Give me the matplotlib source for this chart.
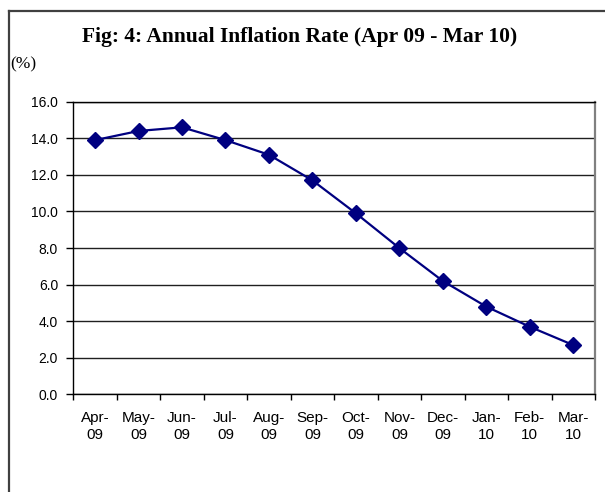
import matplotlib.pyplot as plt
from matplotlib.lines import Line2D
import numpy as np

# Data
months = ['Apr-\n09', 'May-\n09', 'Jun-\n09', 'Jul-\n09', 'Aug-\n09', 'Sep-\n09',
          'Oct-\n09', 'Nov-\n09', 'Dec-\n09', 'Jan-\n10', 'Feb-\n10', 'Mar-\n10']
inflation = [13.9, 14.4, 14.6, 13.9, 13.1, 11.7, 9.9, 8.0, 6.2, 4.8, 3.7, 2.7]
y_ticks = [0.0, 2.0, 4.0, 6.0, 8.0, 10.0, 12.0, 14.0, 16.0]

fig = plt.figure(figsize=(6.05, 4.92), dpi=100)
ax = fig.add_axes([0.1212, 0.1982, 0.8623, 0.5951])

x = np.arange(len(months))
ax.plot(x, inflation, color='#000080', linewidth=1.6, marker='D',
        markersize=8.5, zorder=3)

# Category axis: points centred, ticks between categories
ax.set_xlim(-0.5, len(months) - 0.5)
ax.set_xticks(x)
ax.set_xticklabels(months, fontsize=11, family='Liberation Sans',
                   linespacing=1.3)
ax.set_xticks(np.arange(-0.5, len(months)), minor=True)
ax.tick_params(axis='x', which='major', length=0, pad=12)
ax.tick_params(axis='x', which='minor', length=4, width=1, direction='out')

ax.set_ylim(0, 16)
ax.set_yticks(y_ticks)
ax.set_yticklabels(['{:.1f}'.format(v) for v in y_ticks], fontsize=10,
                   family='Liberation Sans')
ax.tick_params(axis='y', length=5, width=1, direction='out', pad=6)

# Horizontal gridlines
ax.grid(axis='y', color='#202020', linewidth=1.0)
ax.set_axisbelow(True)

for side in ['left', 'bottom', 'top']:
    ax.spines[side].set_color('black')
    ax.spines[side].set_linewidth(1.0)
ax.spines['right'].set_color('#808080')
ax.spines['right'].set_linewidth(1.6)

# Title and unit label
fig.text(0.496, 0.924, 'Fig: 4: Annual Inflation Rate (Apr 09 - Mar 10)',
         ha='center', va='center', fontsize=15.5, fontweight='bold',
         family='Liberation Serif')
fig.text(0.017, 0.870, '(%)', ha='left', va='center', fontsize=12.5,
         family='Liberation Serif')

# Outer chart border (only left and top visible in the crop)
fig.add_artist(Line2D([0.0157, 0.0157], [0.0, 0.978], color='#404040',
                      linewidth=1.6, transform=fig.transFigure))
fig.add_artist(Line2D([0.0157, 1.0], [0.978, 0.978], color='#404040',
                      linewidth=1.6, transform=fig.transFigure))

fig.savefig('out.png', dpi=100)
